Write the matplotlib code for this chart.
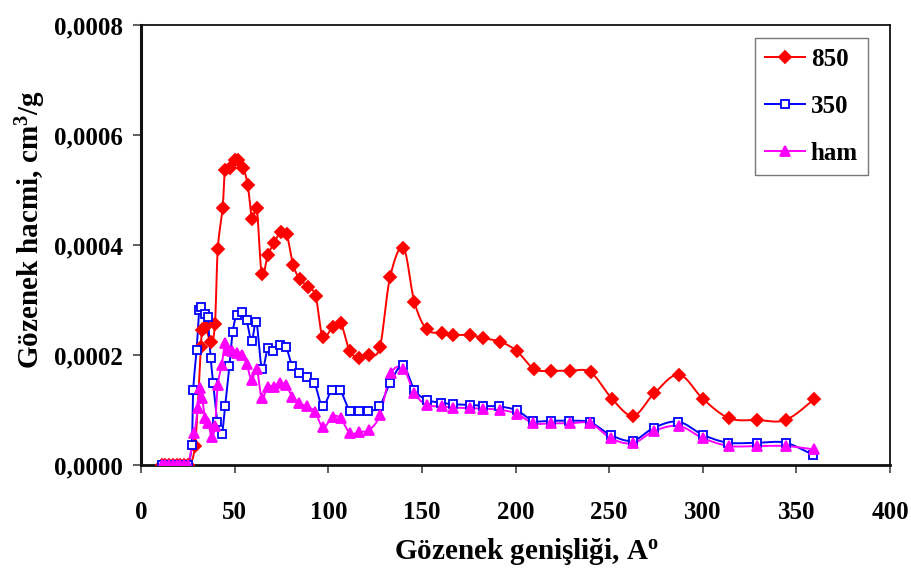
import numpy as np
import matplotlib
matplotlib.use("Agg")
import matplotlib.pyplot as plt
from matplotlib.ticker import FuncFormatter

# ---------------- data ----------------
zeros_x = [11, 13, 15, 17, 19, 21, 23, 25]

x_850 = zeros_x + [28.8, 32.0, 32.4, 34.2, 37.4, 39.5, 41.0, 43.6, 44.9, 47.5, 50.2, 52.0,
                   54.6, 57.0, 59.4, 61.8, 64.5, 67.7, 71.2, 74.6, 77.8, 81.3, 84.9, 89.3,
                   93.3, 97.0, 102.4, 106.6, 111.6, 116.6, 121.8, 127.6, 133.0, 140.1, 146.0,
                   152.6, 160.6, 166.8, 175.7, 182.8, 191.7, 200.6, 209.9, 219.0, 229.2, 240.2,
                   251.5, 262.9, 274.1, 287.3, 300.3, 314.2, 329.1, 344.3, 359.4]
y_850 = [0] * 8 + [0.000035, 0.000215, 0.000246, 0.000252, 0.000225, 0.000257, 0.000393,
                   0.000468, 0.000537, 0.000540, 0.000555, 0.000555, 0.000540, 0.000510,
                   0.000447, 0.000468, 0.000347, 0.000382, 0.000405, 0.000425, 0.000420,
                   0.000364, 0.000338, 0.000325, 0.000307, 0.000234, 0.000252, 0.000259,
                   0.000207, 0.000196, 0.000200, 0.000215, 0.000342, 0.000396, 0.000297,
                   0.000247, 0.000241, 0.000237, 0.000237, 0.000231, 0.000225, 0.000208,
                   0.000175, 0.000172, 0.000172, 0.000169, 0.000121, 0.000090, 0.000131,
                   0.000165, 0.000120, 0.0000855, 0.0000824, 0.0000824, 0.000120]

x_350 = zeros_x + [27.1, 27.9, 29.7, 31.1, 32.0, 34.2, 35.6, 37.2, 38.6, 40.8, 43.1, 44.9,
                   47.2, 49.0, 51.1, 54.1, 56.4, 59.1, 61.6, 64.6, 67.7, 70.7, 74.2, 77.4,
                   80.8, 84.5, 88.5, 92.6, 97.0, 101.8, 106.3, 111.6, 116.6, 121.4, 127.3,
                   133.0, 139.8, 146.0, 152.6, 160.0, 166.8, 175.7, 182.8, 191.3, 200.6,
                   209.5, 218.8, 228.8, 239.8, 250.8, 262.6, 274.0, 287.0, 300.3, 313.7,
                   329.0, 344.2, 359.0]
y_350 = [0] * 8 + [0.000037, 0.000137, 0.000210, 0.000282, 0.000288, 0.000276, 0.000270,
                   0.000195, 0.000149, 0.0000793, 0.0000569, 0.000107, 0.000180, 0.000243,
                   0.000273, 0.000279, 0.000264, 0.000226, 0.000261, 0.000175, 0.000213,
                   0.000207, 0.000219, 0.000216, 0.000180, 0.000167, 0.000160, 0.000150,
                   0.000107, 0.000137, 0.000137, 0.0000987, 0.0000987, 0.0000987, 0.000107,
                   0.000149, 0.000182, 0.000137, 0.000119, 0.000114, 0.000111, 0.000110,
                   0.000108, 0.000107, 0.000100, 0.000081, 0.000081, 0.000081, 0.0000782,
                   0.0000551, 0.0000447, 0.0000684, 0.0000793, 0.0000551, 0.0000411,
                   0.0000411, 0.0000411, 0.0000187]

x_ham = zeros_x + [28.5, 30.3, 31.5, 32.7, 34.2, 35.9, 37.8, 39.5, 41.0, 43.1, 44.9, 46.6,
                   48.8, 51.1, 53.8, 56.4, 59.1, 61.8, 64.5, 67.7, 71.2, 74.2, 77.3, 80.8,
                   84.5, 88.5, 92.9, 97.2, 102.4, 106.6, 111.6, 116.6, 121.8, 127.6, 133.4,
                   140.1, 146.0, 152.6, 160.6, 166.8, 175.7, 182.8, 191.5, 200.6, 209.5,
                   219.0, 229.0, 240.0, 251.0, 262.6, 274.0, 287.3, 300.3, 314.2, 329.1,
                   344.3, 359.4]
y_ham = [0] * 8 + [0.0000582, 0.000104, 0.000140, 0.000122, 0.0000855, 0.0000764, 0.000052,
                   0.0000715, 0.000146, 0.000182, 0.000222, 0.000210, 0.000207, 0.000204,
                   0.000200, 0.000185, 0.000155, 0.000176, 0.000122, 0.000143, 0.000143,
                   0.000149, 0.000146, 0.000125, 0.000113, 0.000107, 0.0000975, 0.000069,
                   0.0000884, 0.0000855, 0.0000582, 0.0000611, 0.0000642, 0.0000915, 0.000167,
                   0.000176, 0.000131, 0.000110, 0.000107, 0.000105, 0.000104, 0.000103,
                   0.000101, 0.0000940, 0.0000764, 0.0000764, 0.0000764, 0.0000764, 0.0000491,
                   0.000040, 0.0000624, 0.0000715, 0.0000491, 0.0000351, 0.0000351,
                   0.0000351, 0.000029]

x_ticks = [0, 50, 100, 150, 200, 250, 300, 350, 400]
y_ticks = [0.0, 0.0002, 0.0004, 0.0006, 0.0008]


def smooth(xs, ys, n=8):
    """Bezier smoothing of the line path (like Excel's smoothed lines)."""
    xs = np.asarray(xs, float)
    ys = np.asarray(ys, float)
    px = np.concatenate([[xs[0]], xs, [xs[-1]]])
    py = np.concatenate([[ys[0]], ys, [ys[-1]]])
    ox, oy = [], []
    t = np.linspace(0, 1, n, endpoint=False)
    for i in range(1, len(px) - 2):
        p0x, p1x, p2x, p3x = px[i - 1], px[i], px[i + 1], px[i + 2]
        p0y, p1y, p2y, p3y = py[i - 1], py[i], py[i + 1], py[i + 2]
        c1x = p1x + (p2x - p0x) / 6
        c1y = p1y + (p2y - p0y) / 6
        c2x = p2x - (p3x - p1x) / 6
        c2y = p2y - (p3y - p1y) / 6
        bx = (1 - t) ** 3 * p1x + 3 * (1 - t) ** 2 * t * c1x + 3 * (1 - t) * t ** 2 * c2x + t ** 3 * p2x
        by = (1 - t) ** 3 * p1y + 3 * (1 - t) ** 2 * t * c1y + 3 * (1 - t) * t ** 2 * c2y + t ** 3 * p2y
        ox.extend(bx)
        oy.extend(by)
    ox.append(xs[-1])
    oy.append(ys[-1])
    return np.array(ox), np.array(oy)


plt.rcParams['font.family'] = ['Liberation Serif', 'DejaVu Serif']
plt.rcParams['font.weight'] = 'bold'
plt.rcParams['mathtext.fontset'] = 'custom'
plt.rcParams['mathtext.rm'] = 'Liberation Serif:bold'
plt.rcParams['mathtext.it'] = 'Liberation Serif:bold'
plt.rcParams['mathtext.bf'] = 'Liberation Serif:bold'

fig = plt.figure(figsize=(9.12, 5.72), dpi=100)
ax = fig.add_axes([0.1546, 0.1865, 0.8213, 0.7693])

series = [
    (x_850, y_850, '#ff0000', 'D', 'red', 'red', 6.5, '850'),
    (x_350, y_350, '#0000ff', 's', 'white', '#0000ff', 6.0, '350'),
    (x_ham, y_ham, '#ff00ff', '^', '#ff00ff', '#ff00ff', 7.0, 'ham'),
]
handles = []
for xs, ys, col, mk, fc, ec, ms, lab in series:
    sx, sy = smooth(xs, ys)
    ax.plot(sx, sy, color=col, lw=1.4, zorder=2)
    ax.plot(xs, ys, ls='none', marker=mk, ms=ms, mfc=fc, mec=ec, mew=1.3, zorder=3)
    h, = ax.plot([], [], color=col, lw=1.4, marker=mk, ms=ms, mfc=fc, mec=ec, mew=1.3, label=lab)
    handles.append(h)

ax.set_xlim(0, 400)
ax.set_ylim(0, 0.0008)
ax.set_xticks(x_ticks)
ax.set_yticks(y_ticks)
ax.yaxis.set_major_formatter(FuncFormatter(lambda v, p: f"{v:.4f}".replace('.', ',')))
ax.tick_params(axis='both', direction='out', length=6, width=1.2, color='#444444',
               labelsize=18)
ax.tick_params(axis='x', pad=20)
ax.tick_params(axis='y', pad=7)
for lab in ax.get_xticklabels() + ax.get_yticklabels():
    lab.set_fontweight('bold')
for s in ax.spines.values():
    s.set_linewidth(1.3)
    s.set_color('#111111')
ax.spines['left'].set_linewidth(2.2)
ax.spines['bottom'].set_linewidth(2.0)

ax.set_xlabel("Gözenek genişliği, A$^{o}$", fontsize=21, fontweight='bold')
ax.xaxis.set_label_coords(0.514, -0.16)
ax.set_ylabel("Gözenek hacmi, cm$^{3}$/g", fontsize=21, fontweight='bold')
ax.yaxis.set_label_coords(-0.124, 0.535)

leg = ax.legend(handles=handles, loc='upper right', bbox_to_anchor=(0.9706, 0.971),
                prop={'family': 'Liberation Serif', 'weight': 'bold', 'size': 18},
                frameon=True, fancybox=False, edgecolor='#555555', handlelength=1.6,
                handletextpad=0.25, labelspacing=0.95, borderpad=0.4, borderaxespad=0.0)
leg.get_frame().set_linewidth(1.0)

fig.savefig("out.png", dpi=100)
